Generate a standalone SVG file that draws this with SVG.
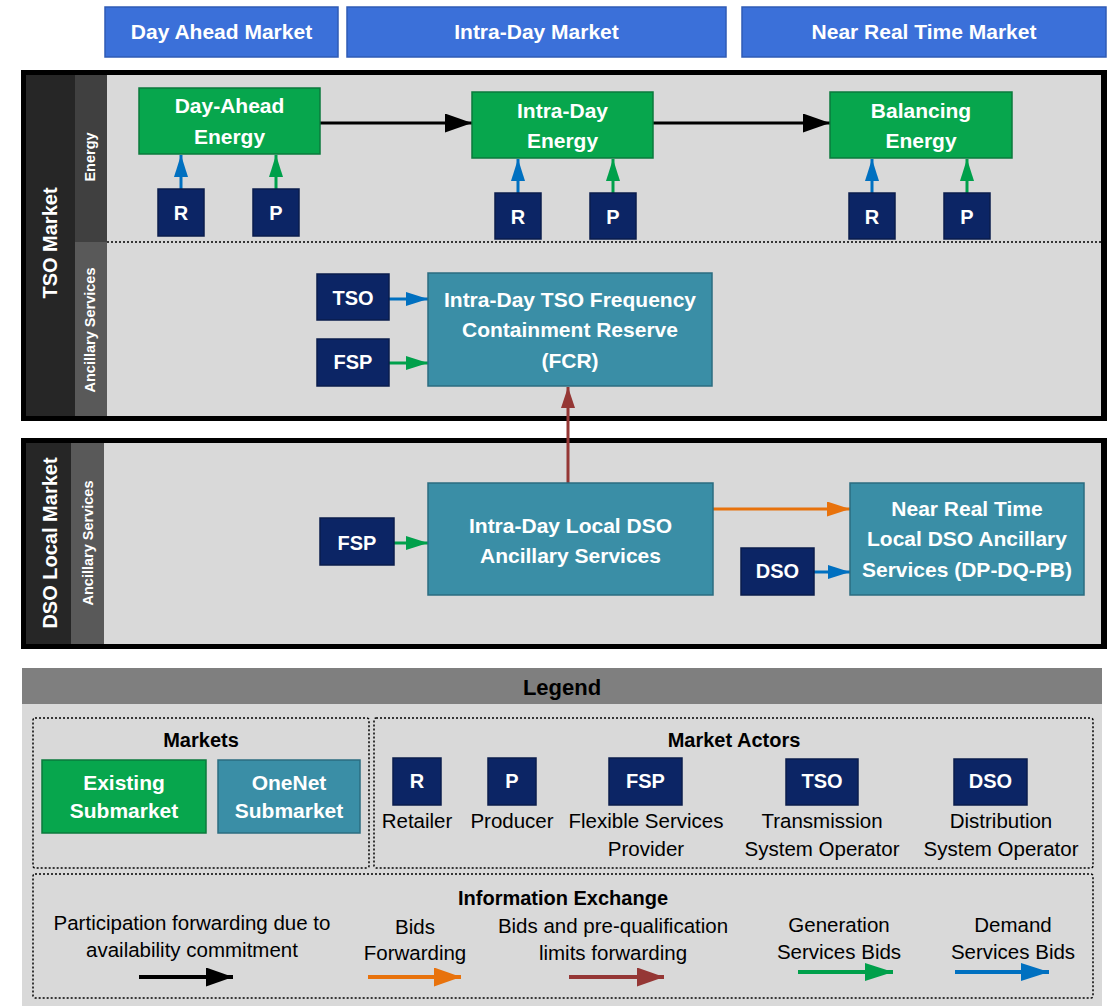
<svg xmlns="http://www.w3.org/2000/svg" width="1109" height="1006" viewBox="0 0 1109 1006">
<style>
text{font-family:"Liberation Sans",Arial,sans-serif}
.hdr{fill:#3b70d9;stroke:#2f5bb5;stroke-width:1.5}
.grn{fill:#07a64d;stroke:#0b7a3d;stroke-width:1.5}
.tea{fill:#3a8ea6;stroke:#2b6c80;stroke-width:1.5}
.nav{fill:#0c2565;stroke:#0a1c4c;stroke-width:1.5}
.wt{fill:#fff;font-weight:bold;font-size:21px;text-anchor:middle}
.act{fill:#fff;font-weight:bold;font-size:20px;text-anchor:middle}
.side{fill:#fff;font-weight:bold;font-size:20px;text-anchor:middle}
.sub{fill:#fff;font-weight:bold;font-size:14.5px;text-anchor:middle}
.lbl{fill:#000;font-size:20.5px;text-anchor:middle}
.ttl{fill:#000;font-weight:bold;font-size:20px;text-anchor:middle}
.dot{fill:none;stroke:#000;stroke-width:1.5;stroke-dasharray:2 2}
.c{fill:none;stroke-width:3}
.k{stroke:#000}.b{stroke:#0070c0}.g{stroke:#00a04b}.o{stroke:#e8720c}.r{stroke:#953735}
</style>
<defs>
<marker id="hk" markerUnits="userSpaceOnUse" markerWidth="27" markerHeight="19" refX="27" refY="9.5" orient="auto"><path d="M0,0 L27,9.5 L0,19 z" fill="#000"/></marker>
<marker id="hb" markerUnits="userSpaceOnUse" markerWidth="22" markerHeight="14" refX="22" refY="7" orient="auto"><path d="M0,0 L22,7 L0,14 z" fill="#0070c0"/></marker>
<marker id="hg" markerUnits="userSpaceOnUse" markerWidth="22" markerHeight="14" refX="22" refY="7" orient="auto"><path d="M0,0 L22,7 L0,14 z" fill="#00a04b"/></marker>
<marker id="ho" markerUnits="userSpaceOnUse" markerWidth="23" markerHeight="15" refX="23" refY="7.5" orient="auto"><path d="M0,0 L23,7.5 L0,15 z" fill="#e8720c"/></marker>
<marker id="hr" markerUnits="userSpaceOnUse" markerWidth="21" markerHeight="14" refX="21" refY="7" orient="auto"><path d="M0,0 L21,7 L0,14 z" fill="#953735"/></marker>
<marker id="Lo" markerUnits="userSpaceOnUse" markerWidth="27" markerHeight="19" refX="27" refY="9.5" orient="auto"><path d="M0,0 L27,9.5 L0,19 z" fill="#e8720c"/></marker>
<marker id="Lr" markerUnits="userSpaceOnUse" markerWidth="27" markerHeight="19" refX="27" refY="9.5" orient="auto"><path d="M0,0 L27,9.5 L0,19 z" fill="#953735"/></marker>
<marker id="Lg" markerUnits="userSpaceOnUse" markerWidth="28" markerHeight="18" refX="28" refY="9" orient="auto"><path d="M0,0 L28,9 L0,18 z" fill="#00a04b"/></marker>
<marker id="Lb" markerUnits="userSpaceOnUse" markerWidth="28" markerHeight="18" refX="28" refY="9" orient="auto"><path d="M0,0 L28,9 L0,18 z" fill="#0070c0"/></marker>
</defs>
<rect width="1109" height="1006" fill="#fff"/>

<!-- timeline headers -->
<g id="hdr-day-ahead"><rect class="hdr" x="105" y="7" width="233" height="50"/><text class="wt" x="221.5" y="39">Day Ahead Market</text></g>
<g id="hdr-intra-day"><rect class="hdr" x="347" y="7" width="379" height="50"/><text class="wt" x="536.5" y="39">Intra-Day Market</text></g>
<g id="hdr-nrt"><rect class="hdr" x="742" y="7" width="364" height="50"/><text class="wt" x="924" y="39">Near Real Time Market</text></g>

<!-- TSO panel -->
<g id="tso-market">
<rect x="21" y="70" width="1086" height="351" fill="#000"/>
<rect x="26" y="75" width="49" height="341" fill="#262626"/>
<rect x="75" y="75" width="32" height="167" fill="#404040"/>
<rect x="75" y="242" width="32" height="174" fill="#595959"/>
<rect x="107" y="75" width="994" height="341" fill="#d9d9d9"/>
<line class="dot" x1="107" y1="242" x2="1101" y2="242"/>
<text class="side" transform="translate(57,243) rotate(-90)">TSO Market</text>
<text class="sub" transform="translate(95,157) rotate(-90)">Energy</text>
<text class="sub" transform="translate(95,330) rotate(-90)">Ancillary Services</text>
</g>

<!-- DSO panel -->
<g id="dso-market">
<rect x="21" y="438" width="1086" height="211" fill="#000"/>
<rect x="26" y="443" width="45" height="201" fill="#262626"/>
<rect x="71" y="443" width="33" height="201" fill="#595959"/>
<rect x="104" y="443" width="997" height="201" fill="#d9d9d9"/>
<text class="side" transform="translate(57,543) rotate(-90)">DSO Local Market</text>
<text class="sub" transform="translate(93,543) rotate(-90)">Ancillary Services</text>
</g>

<!-- connectors -->
<g id="connectors">
<line class="c k" x1="320" y1="123" x2="472" y2="123" marker-end="url(#hk)"/>
<line class="c k" x1="653" y1="123" x2="830" y2="123" marker-end="url(#hk)"/>
<line class="c b" x1="181" y1="189" x2="181" y2="155" marker-end="url(#hb)"/>
<line class="c g" x1="276" y1="189" x2="276" y2="155" marker-end="url(#hg)"/>
<line class="c b" x1="518" y1="193" x2="518" y2="159" marker-end="url(#hb)"/>
<line class="c g" x1="613" y1="193" x2="613" y2="159" marker-end="url(#hg)"/>
<line class="c b" x1="872" y1="193" x2="872" y2="159" marker-end="url(#hb)"/>
<line class="c g" x1="967" y1="193" x2="967" y2="159" marker-end="url(#hg)"/>
<line class="c b" x1="389" y1="299" x2="428" y2="299" marker-end="url(#hb)"/>
<line class="c g" x1="389" y1="363" x2="428" y2="363" marker-end="url(#hg)"/>
<line class="c g" x1="394" y1="543" x2="428" y2="543" marker-end="url(#hg)"/>
<line class="c o" x1="713" y1="509" x2="850" y2="509" marker-end="url(#ho)"/>
<line class="c b" x1="814" y1="572" x2="850" y2="572" marker-end="url(#hb)"/>
<line class="c r" x1="568" y1="483" x2="568" y2="387" marker-end="url(#hr)"/>
</g>

<!-- energy nodes -->
<g id="day-ahead-energy"><rect class="grn" x="139" y="88" width="181" height="66"/><text class="wt" x="229.5" y="113">Day-Ahead</text><text class="wt" x="229.5" y="144">Energy</text></g>
<g id="intra-day-energy"><rect class="grn" x="472" y="92" width="181" height="66"/><text class="wt" x="562.5" y="118">Intra-Day</text><text class="wt" x="562.5" y="148">Energy</text></g>
<g id="balancing-energy"><rect class="grn" x="830" y="92" width="182" height="66"/><text class="wt" x="921" y="118">Balancing</text><text class="wt" x="921" y="148">Energy</text></g>
<g id="r-da"><rect class="nav" x="158" y="189" width="46" height="47"/><text class="act" x="181" y="220">R</text></g>
<g id="p-da"><rect class="nav" x="253" y="189" width="46" height="47"/><text class="act" x="276" y="220">P</text></g>
<g id="r-id"><rect class="nav" x="495" y="193" width="46" height="46"/><text class="act" x="518" y="224">R</text></g>
<g id="p-id"><rect class="nav" x="590" y="193" width="46" height="46"/><text class="act" x="613" y="224">P</text></g>
<g id="r-bal"><rect class="nav" x="849" y="193" width="46" height="46"/><text class="act" x="872" y="224">R</text></g>
<g id="p-bal"><rect class="nav" x="944" y="193" width="46" height="46"/><text class="act" x="967" y="224">P</text></g>

<!-- ancillary nodes -->
<g id="tso-actor"><rect class="nav" x="317" y="274" width="72" height="46"/><text class="act" x="353" y="305">TSO</text></g>
<g id="fsp-tso"><rect class="nav" x="317" y="339" width="72" height="47"/><text class="act" x="353" y="369">FSP</text></g>
<g id="fcr"><rect class="tea" x="428" y="273" width="284" height="113"/><text class="wt" x="570" y="307">Intra-Day TSO Frequency</text><text class="wt" x="570" y="337">Containment Reserve</text><text class="wt" x="570" y="368">(FCR)</text></g>

<g id="fsp-dso"><rect class="nav" x="320" y="518" width="74" height="47"/><text class="act" x="357" y="550">FSP</text></g>
<g id="intra-day-dso"><rect class="tea" x="428" y="483" width="285" height="112"/><text class="wt" x="570.5" y="533">Intra-Day Local DSO</text><text class="wt" x="570.5" y="563">Ancillary Services</text></g>
<g id="dso-actor"><rect class="nav" x="741" y="548" width="73" height="47"/><text class="act" x="777.5" y="578">DSO</text></g>
<g id="nrt-dso"><rect class="tea" x="850" y="483" width="234" height="112"/><text class="wt" x="967" y="516">Near Real Time</text><text class="wt" x="967" y="546">Local DSO Ancillary</text><text class="wt" x="967" y="577">Services (DP-DQ-PB)</text></g>

<!-- legend -->
<g id="legend">
<rect x="22" y="668" width="1080" height="36" fill="#7f7f7f"/>
<rect x="22" y="704" width="1080" height="302" fill="#d9d9d9"/>
<text x="562" y="695" style="fill:#000;font-weight:bold;font-size:22px;text-anchor:middle">Legend</text>
<rect class="dot" x="33" y="718" width="336" height="150" rx="2"/>
<rect class="dot" x="374" y="718" width="719" height="150" rx="2"/>
<rect class="dot" x="33" y="874" width="1060" height="124" rx="2"/>
<text class="ttl" x="201" y="747">Markets</text>
<text class="ttl" x="734" y="747">Market Actors</text>
<text class="ttl" x="563" y="905">Information Exchange</text>
<g id="lg-existing"><rect class="grn" x="42" y="760" width="164" height="73"/><text class="wt" x="124" y="790">Existing</text><text class="wt" x="124" y="818">Submarket</text></g>
<g id="lg-onenet"><rect class="tea" x="218" y="760" width="142" height="73"/><text class="wt" x="289" y="790">OneNet</text><text class="wt" x="289" y="818">Submarket</text></g>
<g id="lg-r"><rect class="nav" x="393" y="758" width="48" height="47"/><text class="act" x="417" y="788">R</text><text class="lbl" x="417" y="828">Retailer</text></g>
<g id="lg-p"><rect class="nav" x="488" y="758" width="48" height="47"/><text class="act" x="512" y="788">P</text><text class="lbl" x="512" y="828">Producer</text></g>
<g id="lg-fsp"><rect class="nav" x="609" y="758" width="73" height="47"/><text class="act" x="645.5" y="788">FSP</text><text class="lbl" x="646" y="828">Flexible Services</text><text class="lbl" x="646" y="856">Provider</text></g>
<g id="lg-tso"><rect class="nav" x="786" y="759" width="72" height="46"/><text class="act" x="822" y="788">TSO</text><text class="lbl" x="822" y="828">Transmission</text><text class="lbl" x="822" y="856">System Operator</text></g>
<g id="lg-dso"><rect class="nav" x="954" y="759" width="73" height="46"/><text class="act" x="990.5" y="788">DSO</text><text class="lbl" x="1001" y="828">Distribution</text><text class="lbl" x="1001" y="856">System Operator</text></g>
<g id="lg-arrows">
<text class="lbl" x="192" y="930">Participation forwarding due to</text>
<text class="lbl" x="192" y="957">availability commitment</text>
<line x1="139" y1="977" x2="233" y2="977" stroke="#000" stroke-width="4" marker-end="url(#hk)"/>
<text class="lbl" x="415" y="934">Bids</text>
<text class="lbl" x="415" y="960">Forwarding</text>
<line x1="368" y1="977" x2="461" y2="977" stroke="#e8720c" stroke-width="4" marker-end="url(#Lo)"/>
<text class="lbl" x="613" y="933">Bids and pre-qualification</text>
<text class="lbl" x="613" y="960">limits forwarding</text>
<line x1="569" y1="977" x2="664" y2="977" stroke="#953735" stroke-width="4" marker-end="url(#Lr)"/>
<text class="lbl" x="839" y="932">Generation</text>
<text class="lbl" x="839" y="959">Services Bids</text>
<line x1="798" y1="972" x2="893" y2="972" stroke="#00a04b" stroke-width="4" marker-end="url(#Lg)"/>
<text class="lbl" x="1013" y="932">Demand</text>
<text class="lbl" x="1013" y="959">Services Bids</text>
<line x1="955" y1="972" x2="1049" y2="972" stroke="#0070c0" stroke-width="4" marker-end="url(#Lb)"/>
</g>
</g>
</svg>
